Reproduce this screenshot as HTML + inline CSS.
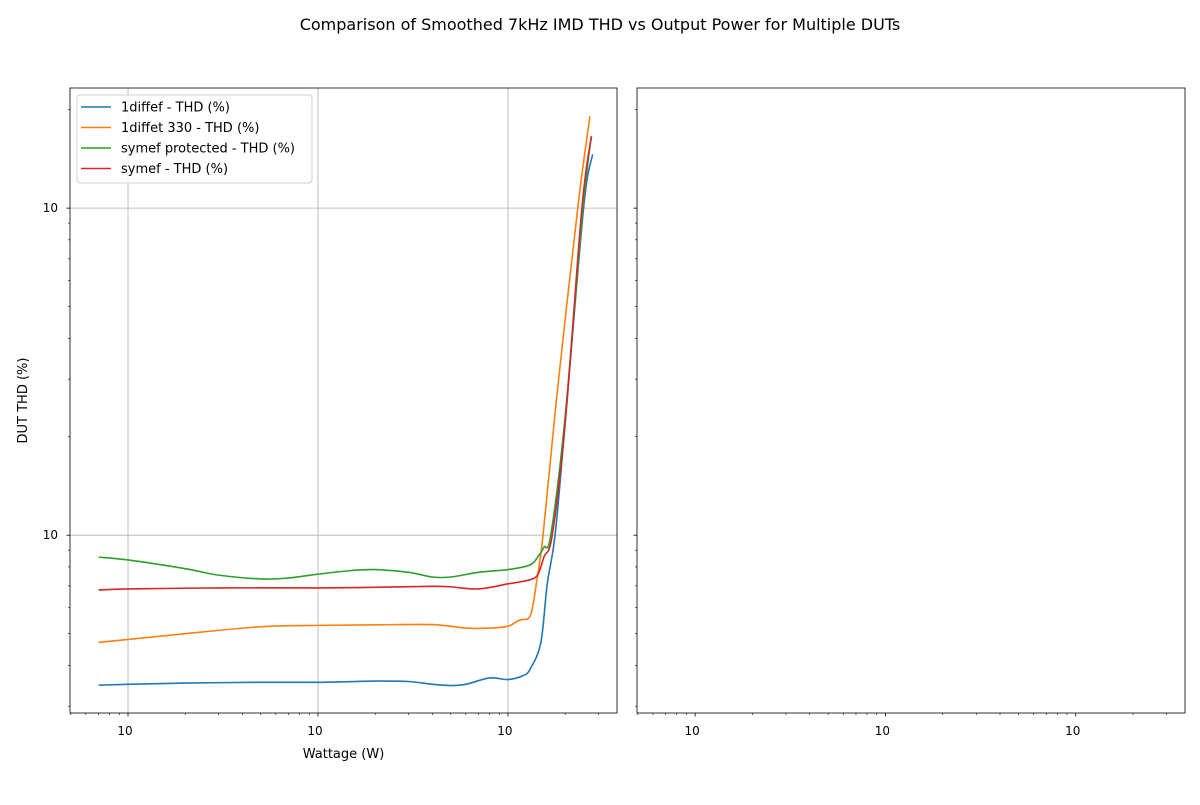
<!DOCTYPE html>
<html><head><meta charset="utf-8"><style>
body{margin:0;background:#fff;font-family:"Liberation Sans","DejaVu Sans",sans-serif}
svg text{font-family:"DejaVu Sans","Liberation Sans",sans-serif}
</style></head><body>
<svg id="chart" width="1200" height="800" xmlns="http://www.w3.org/2000/svg">
<rect width="1200" height="800" fill="#fff"/>
<text x="600" y="30" text-anchor="middle" font-size="16">Comparison of Smoothed 7kHz IMD THD vs Output Power for Multiple DUTs</text>
<g id="left"></g>
<g id="right"></g>
</svg>
<script>
const seriesNames = ["1diffef - THD (%)","1diffet 330 - THD (%)","symef protected - THD (%)","symef - THD (%)"];
const seriesColors = ["#1f77b4","#ff7f0e","#2ca02c","#d62728"];
const blueW   = [0.7,1,2,5,10,20,30,40,50,60,80,100,120,131,149,161,177,200,250,279];
const blueT   = [0.348,0.35,0.353,0.355,0.355,0.358,0.357,0.35,0.347,0.35,0.366,0.362,0.372,0.39,0.47,0.71,1.0,2.2,10,14.6];
const orangeW = [0.7,1,2,5,10,20,40,60,80,100,115,131,141,153,180,233,270];
const orangeT = [0.47,0.48,0.5,0.525,0.53,0.532,0.533,0.52,0.52,0.527,0.55,0.567,0.71,1.0,2.6,10,19.1];
const greenW  = [0.7,1,2,3,5,7,10,15,20,30,40,50,70,100,130,144,155,168,200,248,275];
const greenT  = [0.857,0.84,0.79,0.755,0.735,0.74,0.76,0.78,0.785,0.77,0.745,0.745,0.77,0.785,0.81,0.86,0.92,1.0,2.3,10,16.6];
const redW    = [0.7,1,3,10,20,40,50,70,100,130,144,155,171,200,245,275];
const redT    = [0.68,0.685,0.69,0.69,0.693,0.698,0.695,0.685,0.71,0.73,0.76,0.86,1.0,2.2,10,16.6];
const xTickVals = [1,10,100];
const xTickLabels = ["10","10","10"];
const xTickExp = ["0","1","2"];
const yTickVals = [1,10];
const yTickLabels = ["10","10"];
const yTickExp = ["0","1"];

const NS="http://www.w3.org/2000/svg";
const Y0=88,Y1=713;
const yMin=0.286,yMax=23.3;
const yS=v=>Y1-(Math.log10(v)-Math.log10(yMin))/(Math.log10(yMax)-Math.log10(yMin))*(Y1-Y0);
function mk(p,tag,a){const e=document.createElementNS(NS,tag);for(const k in a)e.setAttribute(k,a[k]);p.appendChild(e);return e;}
function axes(g,X0,X1,left){
  const xMin=0.495,xMax=375;
  const xS=v=>X0+(Math.log10(v)-Math.log10(xMin))/(Math.log10(xMax)-Math.log10(xMin))*(X1-X0);
  if(left){
    xTickVals.forEach(v=>{const l=mk(g,'line',{x1:xS(v),x2:xS(v),y1:Y0,y2:Y1,stroke:'#b0b0b0','stroke-width':0.8});});
    yTickVals.forEach(v=>{const l=mk(g,'line',{x1:X0,x2:X1,y1:yS(v),y2:yS(v),stroke:'#b0b0b0','stroke-width':0.8});});
  }
  // x ticks
  for(let d=-1;d<=2;d++)for(let m=1;m<=9;m++){const v=m*Math.pow(10,d);if(v<xMin||v>xMax)continue;const x=xS(v);
    const t=mk(g,'line',{x1:x,x2:x,y1:Y1,y2:Y1+(m==1?3.5:2),stroke:'#000','stroke-width':m==1?0.8:0.6});}
  xTickVals.forEach((v,i)=>{const t=mk(g,'text',{x:xS(v)-3,y:Y1+22,'text-anchor':'middle','font-size':12});t.textContent=xTickLabels[i];
    
    const e=mk(g,'tspan',{dy:-6,'font-size':8.5});e.textContent=xTickExp[i];});
  for(let d=-1;d<=1;d++)for(let m=1;m<=9;m++){const v=m*Math.pow(10,d);if(v<yMin||v>yMax)continue;const y=yS(v);
    const t=mk(g,'line',{x1:X0,x2:X0-(m==1?3.5:2),y1:y,y2:y,stroke:'#000','stroke-width':m==1?0.8:0.6});}
  if(left){
    yTickVals.forEach((v,i)=>{const t=mk(g,'text',{x:X0-12,y:yS(v)+4,'text-anchor':'end','font-size':12});t.textContent=yTickLabels[i];
      
      const e=mk(g,'tspan',{dy:-6,'font-size':8.5});e.textContent=yTickExp[i];});
    const xl=mk(g,'text',{x:(X0+X1)/2,y:758,'text-anchor':'middle','font-size':13});xl.textContent='Wattage (W)';
    
    const yl=mk(g,'text',{x:27,y:(Y0+Y1)/2,'text-anchor':'middle','font-size':13,transform:`rotate(-90 27 ${(Y0+Y1)/2})`});yl.textContent='DUT THD (%)';
    
    const W=[blueW,orangeW,greenW,redW],T=[blueT,orangeT,greenT,redT];
    W.forEach((ws,si)=>{const pts=ws.map((w,i)=>[xS(w),yS(T[si][i])]);
      let d=`M${pts[0][0]},${pts[0][1]}`;
      for(let i=0;i<pts.length-1;i++){const p0=pts[Math.max(0,i-1)],p1=pts[i],p2=pts[i+1],p3=pts[Math.min(pts.length-1,i+2)];
        const c1=[p1[0]+(p2[0]-p0[0])/6,p1[1]+(p2[1]-p0[1])/6],c2=[p2[0]-(p3[0]-p1[0])/6,p2[1]-(p3[1]-p1[1])/6];
        d+=`C${c1[0]},${c1[1]} ${c2[0]},${c2[1]} ${p2[0]},${p2[1]}`;}
      const p=mk(g,'path',{d:d,fill:'none',stroke:seriesColors[si],'stroke-width':1.6});
      });
    // legend
    const lg=mk(g,'g',{});
    mk(lg,'rect',{x:77,y:95,width:235,height:88,rx:3,fill:'#fff','fill-opacity':0.8,stroke:'#d0d0d0'});
    seriesNames.forEach((n,i)=>{const y=107+i*20.5;
      const e=mk(lg,'g',{});
      mk(e,'line',{x1:81,x2:111,y1:y,y2:y,stroke:seriesColors[i],'stroke-width':1.6});
      const t=mk(e,'text',{x:121,y:y+4.5,'font-size':13});t.textContent=n;});
  }
  const f=mk(g,'rect',{x:X0,y:Y0,width:X1-X0,height:Y1-Y0,fill:'none',stroke:'#000','stroke-width':0.8});
  
}
axes(document.getElementById('left'),70,617,true);
axes(document.getElementById('right'),637,1185,false);
</script>
</body></html>
